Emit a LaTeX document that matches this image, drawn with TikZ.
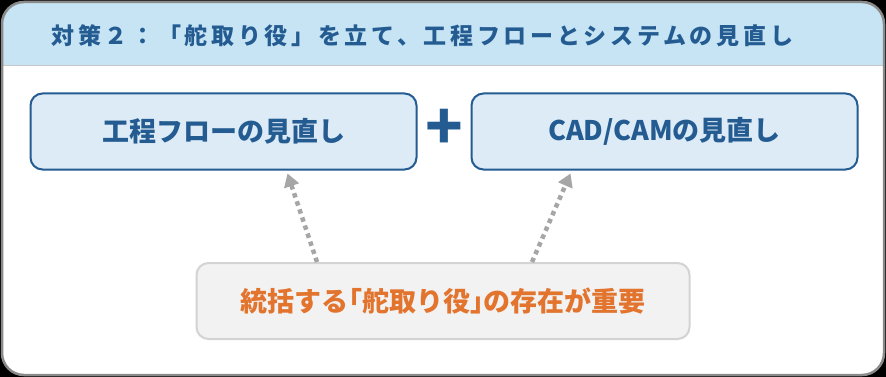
\documentclass[tikz,border=0pt]{standalone}
\usepackage{fontspec}
\usepackage{xcolor}
\usepackage{tikz}
\usetikzlibrary{arrows.meta,positioning,calc}
\newfontfamily\jpfont{Noto Sans CJK JP}
\newfontfamily\jphalf[RawFeature=+halt]{Noto Sans CJK JP}
\newfontfamily\jptitle[LetterSpace=16]{Noto Sans CJK JP}
\definecolor{frame}{HTML}{8A8A8A}
\definecolor{headbg}{HTML}{C6E4F4}
\definecolor{headline}{HTML}{C8C8C8}
\definecolor{navy}{HTML}{245C92}
\definecolor{softblue}{HTML}{DDEBF7}
\definecolor{arrowgray}{HTML}{A6A6A6}
\definecolor{softgray}{HTML}{F2F2F2}
\definecolor{boxgray}{HTML}{D3D3D3}
\definecolor{orange}{HTML}{E2742E}

\begin{document}
\begin{tikzpicture}[
  x=1pt, y=1pt,
  topic/.style={draw=navy, line width=2pt, fill=softblue, rounded corners=12pt, minimum width=386pt, minimum height=76pt, text=navy, font=\jpfont\bfseries\fontsize{27}{32}\selectfont},
  keybox/.style={draw=boxgray, line width=2pt, fill=softgray, rounded corners=12pt, minimum width=493pt, minimum height=76pt, text=orange, font=\jpfont\bfseries\fontsize{27}{32}\selectfont},
  arr/.style={-{Triangle[length=13pt, width=15pt]}, draw=arrowgray, line width=4.5pt, dash pattern=on 4.5pt off 4pt}
]
\fill[black] (0,0) rectangle (886,-377);
\useasboundingbox (0,0) rectangle (886,-377);
\fill[white, rounded corners=22pt] (2,-2) rectangle (884,-375);
\fill[headbg] (2,-66) [rounded corners=22pt] -- (2,-2) -- (884,-2) [sharp corners] -- (884,-66) -- cycle;
\draw[headline, line width=1pt] (2,-66) -- (884,-66);
\draw[frame, line width=2.5pt, rounded corners=22pt] (2,-2) rectangle (884,-375);

\node[anchor=west, text=navy, font=\jptitle\bfseries\fontsize{23}{27}\selectfont] (title) at (48,-36) {対策２：「舵取り役」を立て、工程フローとシステムの見直し};

\node[topic] (flow) at (223.5,-131.5) {工程フローの見直し};
\node[topic, right=53pt of flow] (cad) {CAD/CAMの見直し};
\node[text=navy, font=\jpfont\bfseries\fontsize{62}{62}\selectfont, inner sep=0pt] (plus) at ($(flow.east)!.5!(cad.west)+(0,2)$) {+};
\node[keybox] (key) at (443,-301) {統括する{\jphalf 「}舵取り役{\jphalf 」}の存在が重要};

\draw[arr] ([xshift=-126pt]key.north) -- ([xshift=64pt, yshift=-3pt]flow.south);
\draw[arr] ([xshift=89pt]key.north) -- ([xshift=-94pt, yshift=-3pt]cad.south);
\end{tikzpicture}
\end{document}
